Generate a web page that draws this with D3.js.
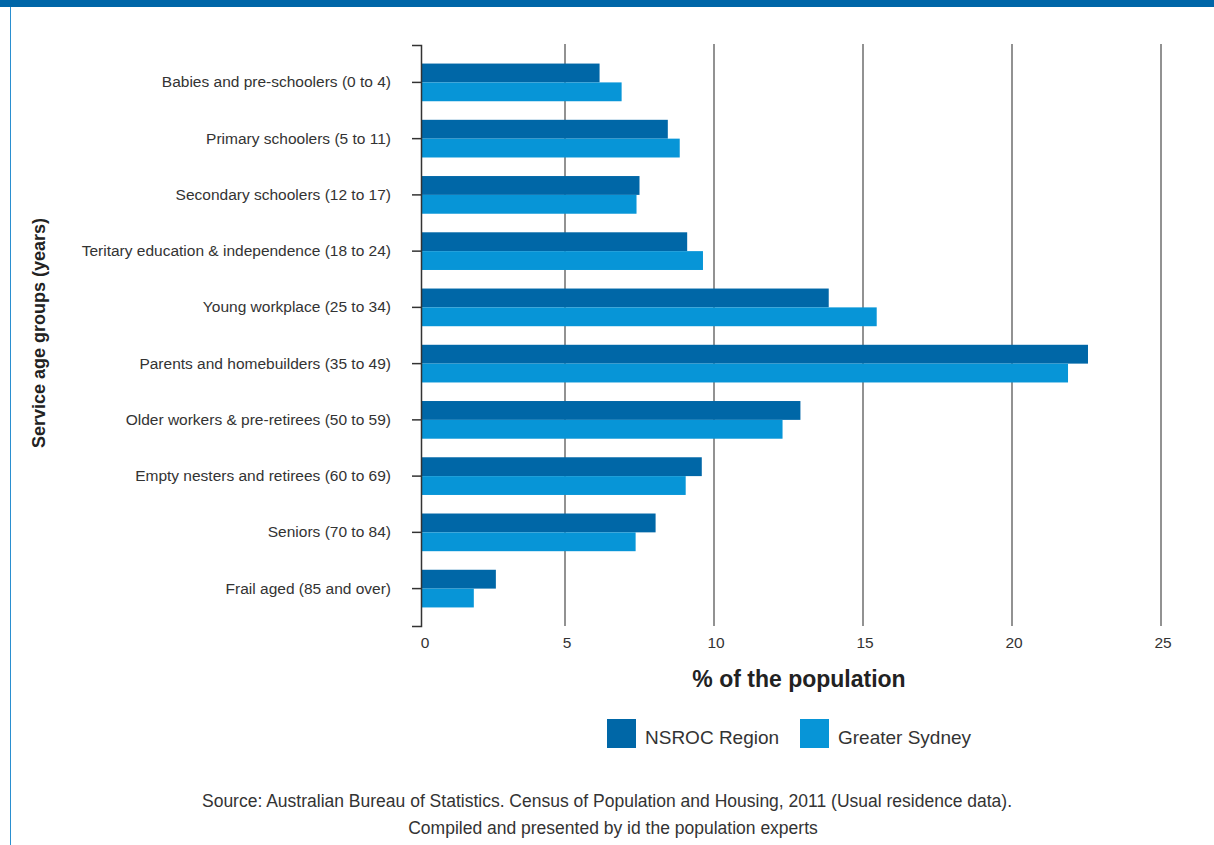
<!DOCTYPE html>
<html><head><meta charset="utf-8">
<script src="https://cdn.jsdelivr.net/npm/d3@7"></script>
<style>body{margin:0;background:#fff}svg{display:block}</style>
</head><body>
<script>
const categories = [
  "Babies and pre-schoolers (0 to 4)",
  "Primary schoolers (5 to 11)",
  "Secondary schoolers (12 to 17)",
  "Teritary education & independence (18 to 24)",
  "Young workplace (25 to 34)",
  "Parents and homebuilders (35 to 49)",
  "Older workers & pre-retirees (50 to 59)",
  "Empty nesters and retirees (60 to 69)",
  "Seniors (70 to 84)",
  "Frail aged (85 and over)"
];
const nsroc = [6.16, 8.45, 7.5, 9.1, 13.85, 22.55, 12.9, 9.59, 8.04, 2.68];
const sydney = [6.9, 8.85, 7.4, 9.63, 15.46, 21.88, 12.3, 9.05, 7.37, 1.94];
const seriesNames = ["NSROC Region", "Greater Sydney"];
const xTicks = [0, 5, 10, 15, 20, 25];

const W = 1214, H = 845;
const colors = ["#0067a7", "#0795d7"];
const font = "'Liberation Sans', Arial, sans-serif";

const svg = d3.select("body").append("svg").attr("width", W).attr("height", H);

// frame
svg.append("rect").attr("x", 0).attr("y", 0).attr("width", W).attr("height", 7).attr("fill", "#0066a8");
svg.append("line").attr("x1", 10.5).attr("x2", 10.5).attr("y1", 7).attr("y2", H).attr("stroke", "#2a8fd0").attr("stroke-width", 1);

const x = d3.scaleLinear().domain([0, 25]).range([416, 1161]);
const axisX = 421;
const y = d3.scaleBand().domain(categories).range([45, 626]).paddingInner(0.33).paddingOuter(0.33);
const sub = d3.scaleBand().domain(seriesNames).range([0, y.bandwidth()]);

// gridlines
svg.append("g").selectAll("line").data(xTicks.filter(d => d > 0)).join("line")
  .attr("x1", d => x(d)).attr("x2", d => x(d)).attr("y1", 44).attr("y2", 626)
  .attr("stroke", "#6e6e6e").attr("stroke-width", 1.5);

// bars
const data = categories.map((c, i) => ({c, vals: [nsroc[i], sydney[i]]}));
const g = svg.append("g");
data.forEach(d => {
  d.vals.forEach((v, j) => {
    g.append("rect")
      .attr("x", axisX)
      .attr("y", y(d.c) + sub(seriesNames[j]))
      .attr("width", x(v) - axisX)
      .attr("height", sub.bandwidth())
      .attr("fill", colors[j]);
  });
});

// y axis
const yAxis = d3.axisLeft(y).tickSize(9).tickPadding(21).tickSizeOuter(9);
const yg = svg.append("g").attr("transform", `translate(${axisX},0)`).call(yAxis);
yg.select(".domain").attr("stroke", "#333").attr("stroke-width", 1.5);
yg.selectAll(".tick line").attr("stroke", "#333").attr("stroke-width", 1.5);
yg.selectAll(".tick text").attr("font-family", font).attr("font-size", 15.5).attr("fill", "#333");

// x tick labels
svg.append("g").selectAll("text").data(xTicks).join("text")
  .attr("x", d => x(d) + (d === 0 ? 9 : 2)).attr("y", 648)
  .attr("text-anchor", "middle").attr("font-family", font).attr("font-size", 15.5).attr("fill", "#333")
  .text(d => d);

// axis titles
svg.append("text").attr("x", 799).attr("y", 687).attr("text-anchor", "middle")
  .attr("font-family", font).attr("font-size", 23).attr("font-weight", "bold").attr("fill", "#222")
  .text("% of the population");
svg.append("text").attr("transform", "translate(45,333) rotate(-90)").attr("text-anchor", "middle")
  .attr("font-family", font).attr("font-size", 18).attr("font-weight", "bold").attr("fill", "#222")
  .text("Service age groups (years)");

// legend
const legendX = [607, 800];
seriesNames.forEach((n, j) => {
  svg.append("rect").attr("x", legendX[j]).attr("y", 719).attr("width", 29).attr("height", 29).attr("fill", colors[j]);
  svg.append("text").attr("x", legendX[j] + 38).attr("y", 744)
    .attr("font-family", font).attr("font-size", 19).attr("fill", "#333").text(n);
});

// source
svg.append("text").attr("x", 607).attr("y", 807).attr("text-anchor", "middle")
  .attr("font-family", font).attr("font-size", 17.5).attr("fill", "#333")
  .text("Source: Australian Bureau of Statistics. Census of Population and Housing, 2011 (Usual residence data).");
svg.append("text").attr("x", 613).attr("y", 834).attr("text-anchor", "middle")
  .attr("font-family", font).attr("font-size", 17.5).attr("fill", "#333")
  .text("Compiled and presented by id the population experts");
</script>
</body></html>
